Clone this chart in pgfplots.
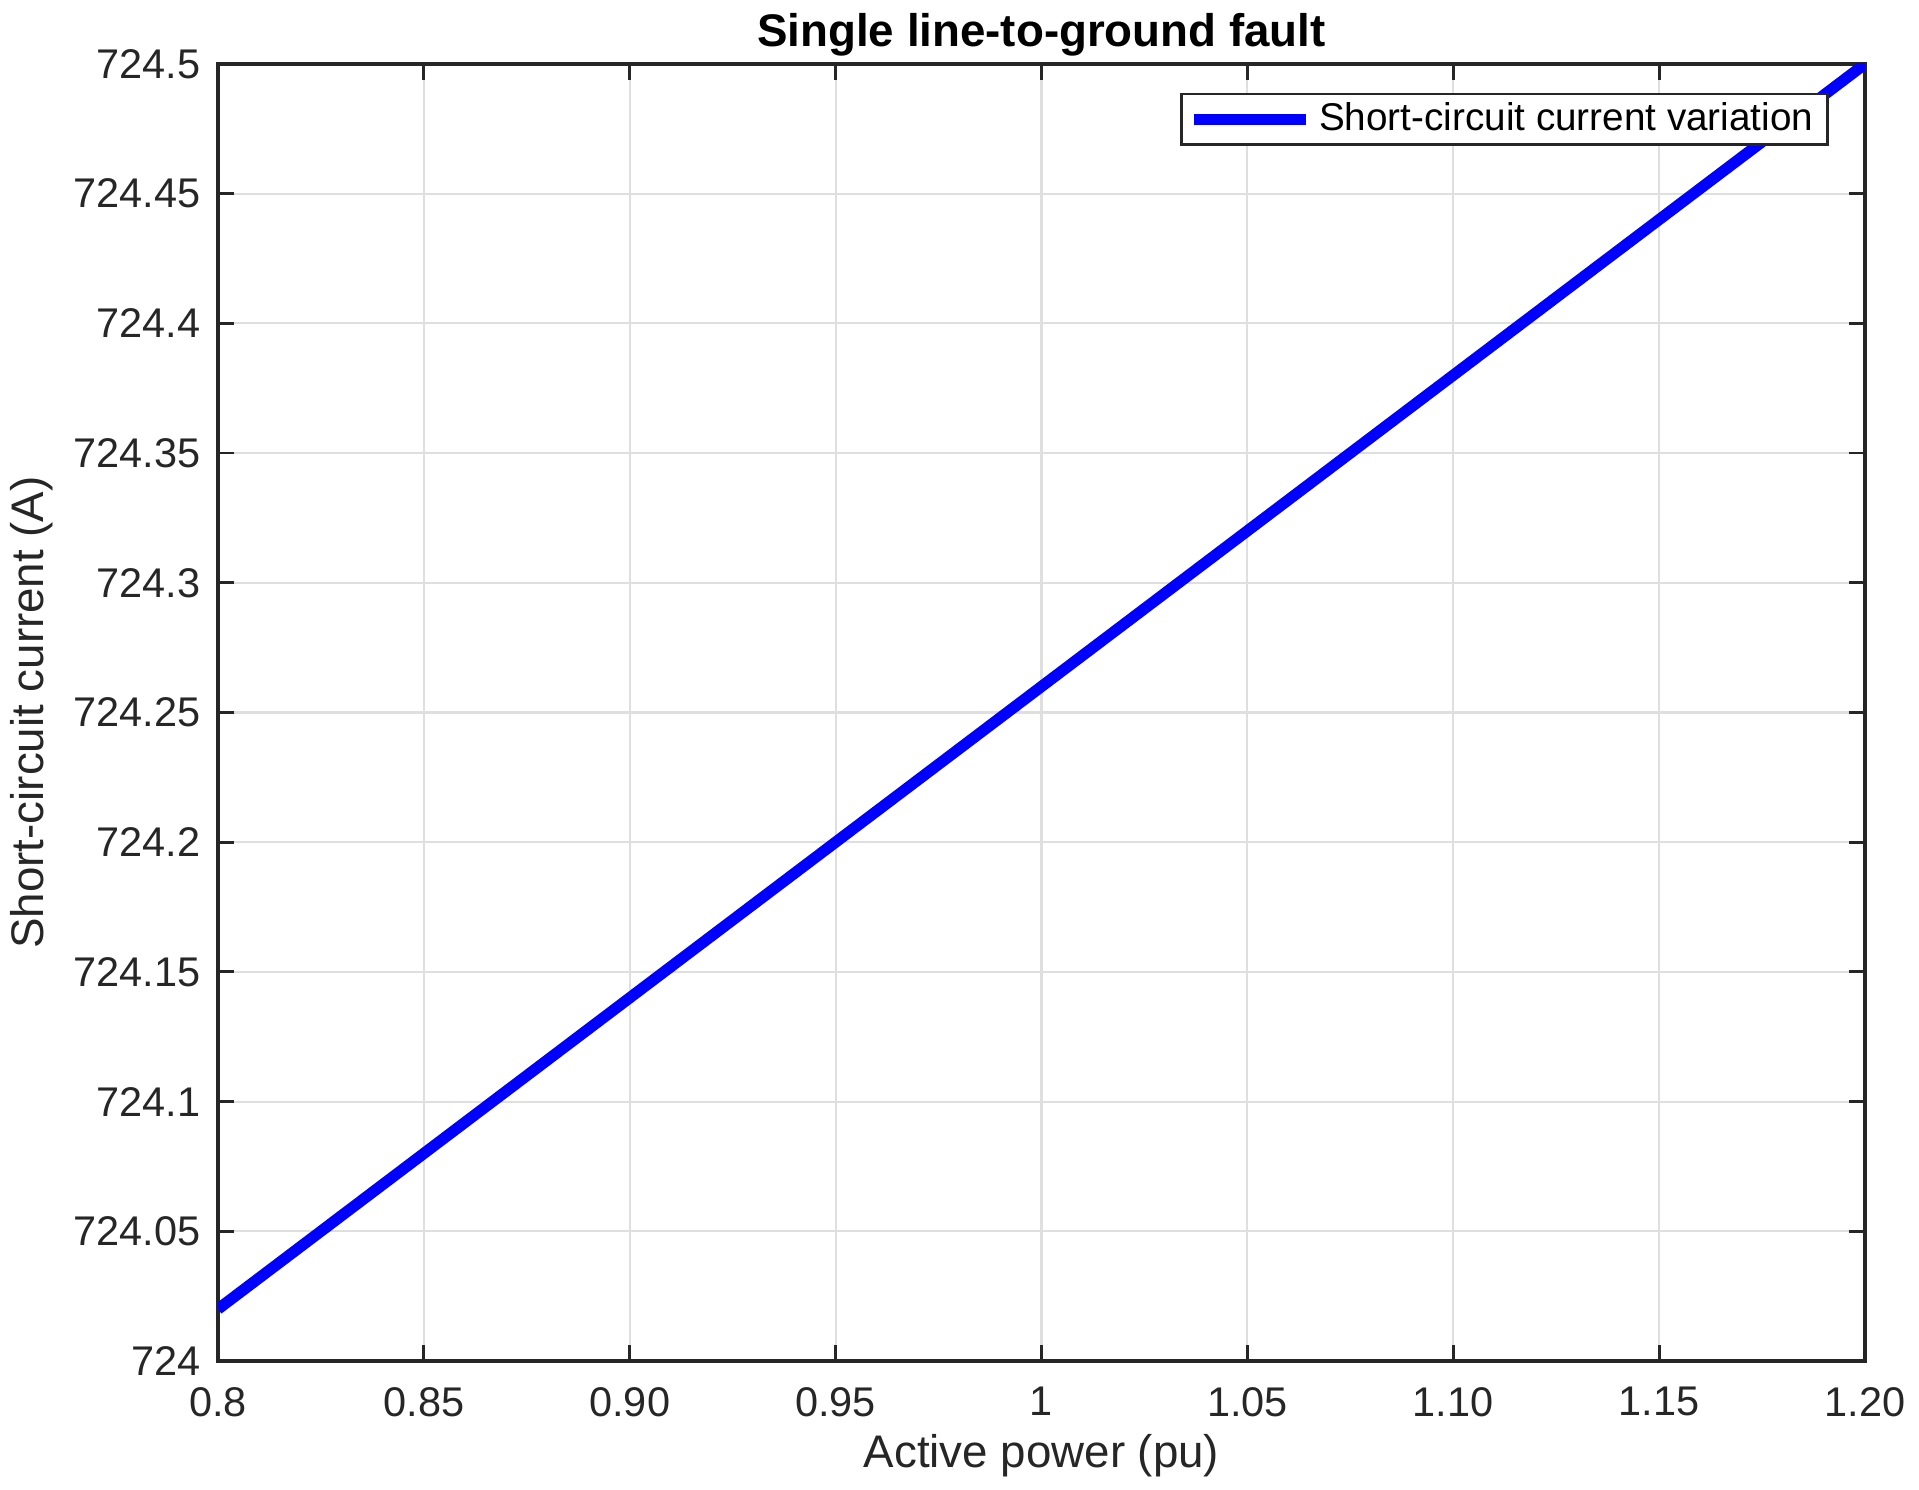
\documentclass[border=0pt]{standalone}
\usepackage{fontspec}
\setmainfont{Liberation Sans}
\usepackage{pgfplots}
\pgfplotsset{compat=1.18}
\definecolor{axgray}{HTML}{262626}
\definecolor{gridgray}{HTML}{DFDFDF}

\begin{document}
\begin{tikzpicture}
\begin{axis}[
    name=ax,
    scale only axis,
    width=16.47cm, height=12.97cm,
    xmin=0.8, xmax=1.2,
    ymin=724, ymax=724.5,
    xtick={0.8,0.85,0.9,0.95,1,1.05,1.1,1.15,1.2},
    xticklabels={0.8,0.85,0.90,0.95,1,1.05,1.10,1.15,1.20},
    ytick={724,724.05,724.1,724.15,724.2,724.25,724.3,724.35,724.4,724.45,724.5},
    yticklabels={724,724.05,724.1,724.15,724.2,724.25,724.3,724.35,724.4,724.45,724.5},
    tick align=inside,
    tick pos=both,
    major tick length=0.16cm,
    tick style={axgray, line width=0.8pt},
    axis line style={axgray, line width=1pt},
    grid=major,
    major grid style={gridgray, line width=0.6pt},
    ticklabel style={font=\fontsize{11.8}{13}\selectfont, text=axgray},
    xticklabel style={yshift=-0.14cm},
    yticklabel style={xshift=-0.05cm},
    xlabel={Active power (pu)},
    ylabel={Short-circuit current (A)},
    label style={font=\fontsize{13}{15}\selectfont, text=axgray},
    xlabel style={yshift=0.06cm},
    ylabel style={yshift=-0.03cm},
    title={Single line-to-ground fault},
    title style={font=\bfseries\fontsize{13}{15}\selectfont, yshift=-0.26cm},
    legend style={at={(0.978,0.978)}, anchor=north east,
        draw=axgray, line width=0.8pt,
        font=\fontsize{11}{13}\selectfont, text=black,
        inner xsep=2pt, inner ysep=0.5pt},
    legend cell align=left,
    legend image code/.code={\draw[#1, line width=3.2pt] (0cm,0cm) -- (1.12cm,0cm);},
    clip=true,
]
\coordinate (bl) at (rel axis cs:0,0);
\coordinate (tr) at (rel axis cs:1,1);
\addplot[blue, line width=3.2pt] coordinates {
    (0.80,724.02) (0.90,724.14) (1.00,724.26) (1.10,724.38) (1.20,724.50)
};
\addlegendentry{Short-circuit current variation}
\end{axis}
\pgfresetboundingbox
\path ([xshift=-2.18cm,yshift=-1.29cm]bl) rectangle ([xshift=0.54cm,yshift=0.64cm]tr);
\end{tikzpicture}
\end{document}
